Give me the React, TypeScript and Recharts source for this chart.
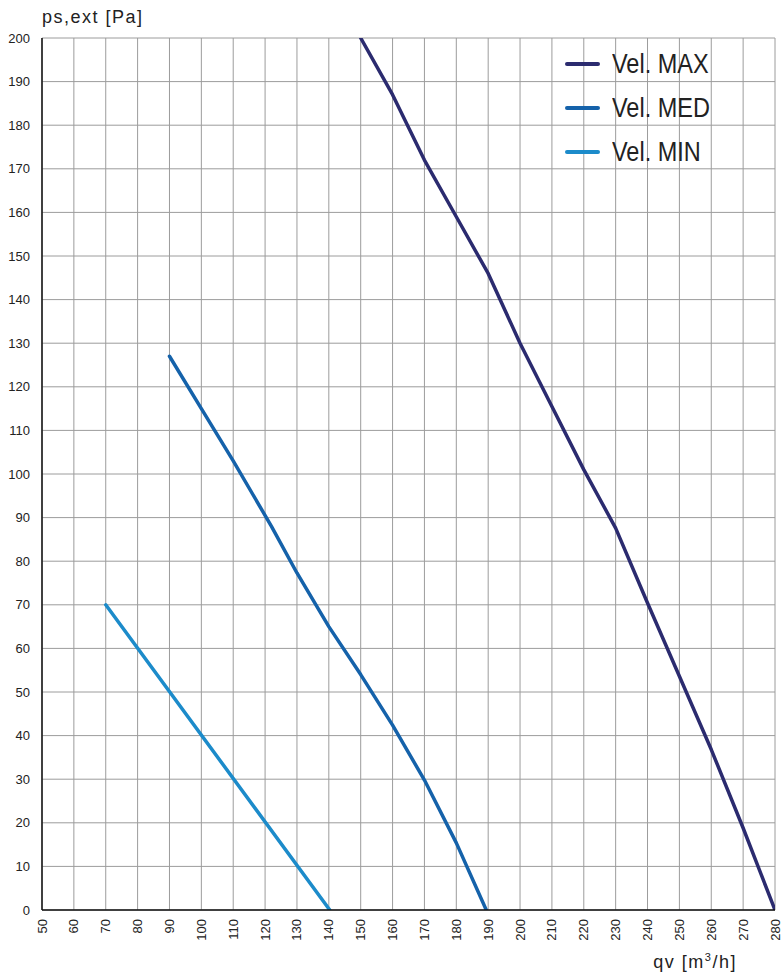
import React from "react";
import { LineChart, Line, XAxis, YAxis, CartesianGrid, Legend } from "recharts";

const qvTicks = [50, 60, 70, 80, 90, 100, 110, 120, 130, 140, 150, 160, 170, 180, 190, 200, 210, 220, 230, 240, 250, 260, 270, 280];
const psTicks = [0, 10, 20, 30, 40, 50, 60, 70, 80, 90, 100, 110, 120, 130, 140, 150, 160, 170, 180, 190, 200];

const seriesNames = ["Vel. MAX", "Vel. MED", "Vel. MIN"];
const seriesColors = ["#2b2b6f", "#1562aa", "#1c8bca"];

const maxQv = [150, 160, 170, 180, 190, 200, 210, 220, 230, 240, 250, 260, 270, 280];
const maxPs = [200, 187, 172, 159, 146, 130, 115.5, 101, 87.6, 70.4, 53.6, 36.8, 18.8, 0];

const medQv = [90, 100, 110, 122, 130, 140, 150, 160, 170, 180, 189.4];
const medPs = [127, 115, 103, 88, 77.3, 65, 54, 42.4, 29.8, 15.4, 0];

const minQv = [70, 140.3];
const minPs = [70, 0];

const toData = (qv: number[], ps: number[]) => qv.map((q, i) => ({ q, p: ps[i] }));
const datasets = [toData(maxQv, maxPs), toData(medQv, medPs), toData(minQv, minPs)];

const FONT = '"Liberation Sans", Arial, Helvetica, sans-serif';

const XTick = (props: any) => {
  const { x, y, payload } = props;
  const bx = x + 4.5;
  return (
    <text
      x={bx}
      y={y}
      transform={`rotate(-90 ${bx} ${y})`}
      textAnchor="end"
      fontSize={13}
      fontFamily={FONT}
      fill="#222"
    >
      {payload.value}
    </text>
  );
};

const YTick = (props: any) => {
  const { x, y, payload } = props;
  return (
    <text x={x} y={y} dy={4.5} textAnchor="end" fontSize={13} fontFamily={FONT} fill="#222">
      {payload.value}
    </text>
  );
};

const YLabel = (props: any) => {
  const vb = props.viewBox;
  return (
    <text x={vb.x + vb.width} y={vb.y - 15.5} textAnchor="start" fontSize={18} letterSpacing={1.5} fontFamily={FONT} fill="#222">
      ps,ext [Pa]
    </text>
  );
};

const XLabel = (props: any) => {
  const vb = props.viewBox;
  return (
    <text x={vb.x + vb.width - 38} y={vb.y + 58} textAnchor="end" fontSize={18} letterSpacing={1.5} fontFamily={FONT} fill="#222">
      <tspan>qv [m</tspan>
      <tspan dy={-7} fontSize={11}>3</tspan>
      <tspan dy={7}>/h]</tspan>
    </text>
  );
};

const LegendContent = () => (
  <div style={{ display: "flex", flexDirection: "column" }}>
    {seriesNames.map((n, i) => (
      <div key={n} style={{ display: "flex", alignItems: "center", height: 44 }}>
        <div style={{ width: 35, height: 4, borderRadius: 2, background: seriesColors[i], marginRight: 12 }} />
        <span
          style={{
            display: "inline-block",
            fontFamily: FONT,
            fontSize: 27,
            color: "#222",
            lineHeight: "44px",
            transform: "scaleX(0.87)",
            transformOrigin: "left center",
            whiteSpace: "nowrap",
          }}
        >
          {n}
        </span>
      </div>
    ))}
  </div>
);

export default function App() {
  return (
    <div style={{ position: "absolute", left: 0, top: 0, background: "#fff" }}>
      <LineChart width={782} height={975} margin={{ top: 38, right: 7, left: 0, bottom: 25 }}>
        <CartesianGrid stroke="#9c9c9c" strokeWidth={1} />
        <XAxis
          type="number"
          dataKey="q"
          domain={[50, 280]}
          ticks={qvTicks}
          interval={0}
          height={40}
          axisLine={{ stroke: "#111", strokeWidth: 1.5 }}
          tickLine={false}
          tickSize={6}
          tickMargin={3}
          tick={<XTick />}
          allowDataOverflow
          label={<XLabel />}
        />
        <YAxis
          type="number"
          dataKey="p"
          domain={[0, 200]}
          ticks={psTicks}
          interval={0}
          width={42}
          axisLine={{ stroke: "#111", strokeWidth: 1.5 }}
          tickLine={false}
          tickSize={6}
          tickMargin={6}
          tick={<YTick />}
          allowDataOverflow
          label={<YLabel />}
        />
        <Legend
          layout="vertical"
          align="center"
          verticalAlign="middle"
          content={<LegendContent />}
          wrapperStyle={{ left: 565, top: 42, width: 200, height: 132 }}
        />
        {datasets.map((d, i) => (
          <Line
            key={seriesNames[i]}
            data={d}
            dataKey="p"
            name={seriesNames[i]}
            type="linear"
            stroke={seriesColors[i]}
            strokeWidth={3.5}
            strokeLinecap="round"
            strokeLinejoin="round"
            dot={false}
            activeDot={false}
            isAnimationActive={false}
          />
        ))}
      </LineChart>
    </div>
  );
}
